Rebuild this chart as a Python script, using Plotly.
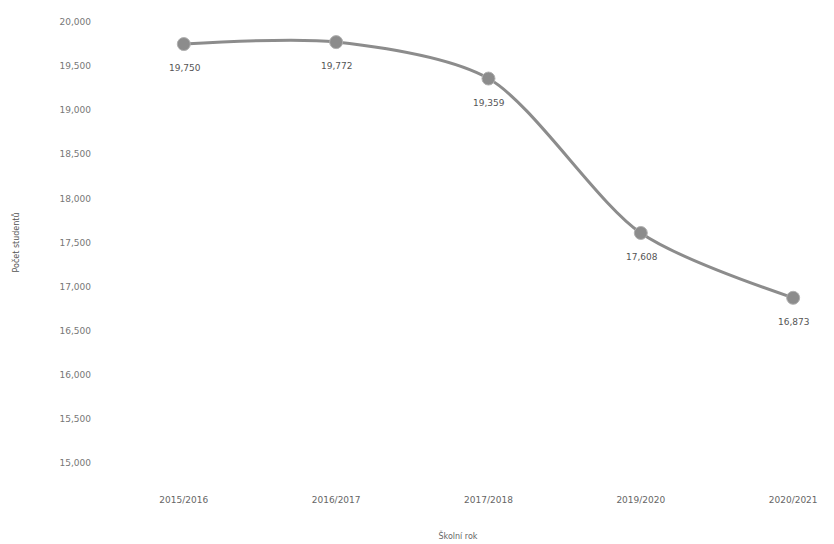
import plotly.graph_objects as go

years = ["2015/2016", "2016/2017", "2017/2018", "2019/2020", "2020/2021"]
values = [19750, 19772, 19359, 17608, 16873]
labels = ["19,750", "19,772", "19,359", "17,608", "16,873"]
y_ticks = [15000, 15500, 16000, 16500, 17000, 17500, 18000, 18500, 19000, 19500, 20000]

fig = go.Figure()
fig.add_trace(go.Scatter(
    x=years, y=values,
    mode="lines+markers",
    line=dict(color="#8c8c8c", width=3, shape="spline", smoothing=0.8),
    marker=dict(color="#8c8c8c", size=13, line=dict(color="#b0b0b0", width=1)),
    cliponaxis=False,
))

for xv, yv, lab in zip(years, values, labels):
    fig.add_annotation(
        x=xv, y=yv, text=lab, showarrow=False,
        yshift=-24, xshift=1,
        font=dict(family="DejaVu Sans", size=9, color="#555555"),
    )

fig.update_layout(
    width=826, height=536,
    margin=dict(l=92, r=18, t=14, b=81, autoexpand=False),
    plot_bgcolor="white", paper_bgcolor="white",
    showlegend=False,
    font=dict(family="DejaVu Sans", size=9, color="#666666"),
)
fig.update_xaxes(
    type="category", range=[-0.55, 4.15],
    showgrid=False, zeroline=False, showline=False, automargin=False,
    ticks="", ticklabelstandoff=30,
    tickfont=dict(size=9, color="#666666"),
    title=dict(text="Školní rok", standoff=29, font=dict(size=8, color="#666666")),
)
fig.update_yaxes(
    range=[15000, 20000], tickvals=y_ticks,
    tickformat=",d", automargin=False,
    showgrid=False, zeroline=False, showline=False,
    ticks="", ticklabelstandoff=8,
    tickfont=dict(size=9, color="#777777"),
    title=dict(text="Počet studentů", standoff=38, font=dict(size=8, color="#555555")),
)

fig.write_html("out.html")
